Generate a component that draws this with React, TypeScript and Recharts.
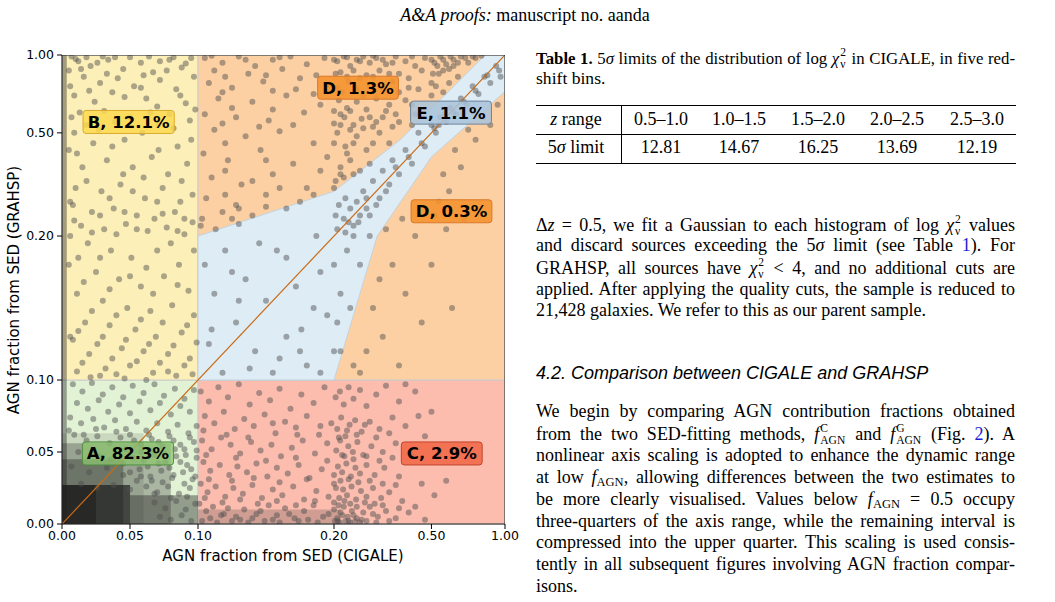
import { Scatter, ScatterChart, XAxis, YAxis } from "recharts";

// axis: linear up to 0.2, then compressed towards 1
const axisTickValues = [0, 0.05, 0.1, 0.2, 0.5, 1.0];
const scaleKnotsValue = [0, 0.2, 0.5, 1];
const scaleKnotsPosition = [0, 0.614, 0.834, 1];

type Pt = [number, number];

// region outlines (AGN fraction, CIGALE x / GRAHSP y)
const regionA: Pt[] = [[0, 0], [0.1, 0], [0.1, 0.1], [0, 0.1]];
const regionB: Pt[] = [[0, 0.1], [0.1, 0.1], [0.1, 1], [0, 1]];
const regionC: Pt[] = [[0.1, 0], [1, 0], [1, 0.1], [0.1, 0.1]];
const regionD: Pt[] = [[0.1, 0.1], [1, 0.1], [1, 1], [0.1, 1]];
const regionE: Pt[] = [
  [0.1, 0.1], [0.2, 0.1], [0.333, 0.2], [0.5, 0.43], [1, 0.765],
  [1, 1], [0.865, 1], [0.404, 0.48], [0.2, 0.33], [0.1, 0.2],
];

// very dense clumps of sources, drawn as shaded boxes [x0, x1, y0, y1, shade]
const denseBoxes: [number, number, number, number, number][] = [
  [0, 0.08, 0, 0.056, 0.28],
  [0, 0.06, 0, 0.063, 0.12],
  [0, 0.045, 0, 0.045, 0.35],
  [0, 0.05, 0, 0.027, 0.7],
  [0, 0.025, 0, 0.027, 0.55],
  [0.05, 0.1, 0, 0.02, 0.4],
  [0.1, 0.22, 0, 0.01, 0.2],
  [0, 0.0035, 0, 1, 0.4],
];

const pointsA: Pt[] = [
  [0.008,0.097],[0.015,0.092],[0.022,0.098],[0.03,0.09],[0.037,0.095],[0.045,0.088],[0.052,0.096],[0.06,0.091],[0.068,0.097],[0.075,0.089],[0.083,0.094],[0.09,0.087],[0.097,0.093],
  [0.011,0.084],[0.019,0.08],[0.027,0.086],[0.034,0.078],[0.042,0.083],[0.05,0.077],[0.057,0.085],[0.065,0.079],[0.072,0.084],[0.08,0.076],[0.087,0.082],[0.094,0.078],
  [0.006,0.074],[0.014,0.07],[0.023,0.073],[0.031,0.067],[0.039,0.072],[0.047,0.066],[0.055,0.071],[0.062,0.065],[0.07,0.07],[0.078,0.064],[0.085,0.069],[0.093,0.063],[0.099,0.068],
  [0.009,0.062],[0.018,0.058],[0.026,0.061],[0.035,0.056],[0.043,0.06],[0.058,0.055],[0.066,0.059],[0.074,0.054],[0.082,0.058],[0.09,0.052],[0.097,0.057],
  [0.012,0.05],[0.028,0.047],[0.036,0.045],[0.06,0.044],[0.068,0.048],[0.076,0.043],[0.084,0.047],[0.092,0.041],[0.099,0.046],
  [0.007,0.04],[0.02,0.036],[0.033,0.039],[0.045,0.034],[0.057,0.038],[0.065,0.033],[0.073,0.037],[0.081,0.032],[0.089,0.036],[0.096,0.031],
  [0.014,0.028],[0.026,0.025],[0.038,0.027],[0.05,0.024],[0.062,0.026],[0.07,0.022],[0.078,0.026],[0.086,0.021],[0.094,0.025],
  [0.068,0.015],[0.076,0.011],[0.084,0.016],[0.091,0.01],[0.098,0.014],[0.072,0.005],[0.08,0.003],[0.088,0.006],[0.095,0.002],
  [0.064,0.062],[0.071,0.057],[0.079,0.061],[0.087,0.055],[0.094,0.06],[0.067,0.051],[0.075,0.049],[0.083,0.052],[0.091,0.048],[0.099,0.051],
  [0.063,0.04],[0.071,0.042],[0.079,0.039],[0.087,0.043],[0.095,0.038],[0.066,0.03],[0.074,0.029],[0.082,0.034],[0.09,0.028],[0.098,0.033],[0.068,0.021],[0.08,0.018],[0.092,0.019],
  [0.005,0.065],[0.016,0.062],[0.025,0.066],[0.04,0.064],[0.05,0.062],[0.053,0.058],[0.047,0.052],[0.052,0.046],[0.058,0.05],[0.045,0.042],[0.05,0.036],[0.055,0.03],[0.058,0.033],
];

const pointsB: Pt[] = [
  [0.007,0.99],[0.018,0.985],[0.03,0.99],[0.05,0.985],[0.064,0.99],[0.082,0.985],
  [0.012,0.96],[0.021,0.93],[0.034,0.97],[0.045,0.91],[0.058,0.95],[0.067,0.89],[0.079,0.97],[0.088,0.92],[0.095,0.98],
  [0.016,0.86],[0.028,0.82],[0.041,0.85],[0.053,0.8],[0.072,0.84],[0.084,0.78],[0.009,0.74],[0.024,0.7],[0.037,0.76],[0.062,0.72],[0.091,0.69],
  [0.013,0.63],[0.079,0.62],[0.094,0.58],[0.027,0.52],[0.046,0.48],[0.059,0.5],[0.071,0.55],[0.085,0.46],
  [0.011,0.44],[0.033,0.42],[0.052,0.4],[0.066,0.43],[0.078,0.38],[0.092,0.41],[0.018,0.36],[0.029,0.33],[0.043,0.35],[0.061,0.31],[0.074,0.34],[0.087,0.3],
  [0.008,0.29],[0.022,0.27],[0.038,0.28],[0.055,0.26],[0.068,0.25],[0.083,0.27],[0.096,0.24],[0.014,0.23],[0.031,0.22],[0.047,0.235],[0.063,0.215],[0.077,0.225],[0.09,0.205],
  [0.006,0.2],[0.019,0.195],[0.036,0.19],[0.051,0.185],[0.07,0.19],[0.086,0.18],[0.025,0.175],[0.042,0.17],[0.058,0.165],[0.075,0.172],[0.093,0.162],
  [0.011,0.16],[0.03,0.155],[0.048,0.15],[0.065,0.148],[0.081,0.152],[0.097,0.145],[0.017,0.14],[0.035,0.138],[0.054,0.135],[0.069,0.13],[0.088,0.133],
  [0.008,0.128],[0.026,0.125],[0.044,0.122],[0.06,0.12],[0.078,0.118],[0.094,0.115],[0.015,0.112],[0.032,0.108],[0.05,0.11],[0.067,0.105],[0.084,0.103],[0.021,0.102],[0.04,0.104],
  [0.005,0.9],[0.006,0.8],[0.007,0.6],[0.005,0.45],[0.006,0.3],[0.005,0.18],[0.006,0.13],
  [0.01,0.975],[0.026,0.95],[0.039,0.985],[0.072,0.96],[0.091,0.945],[0.014,0.91],[0.033,0.88],[0.06,0.87],[0.077,0.9],[0.097,0.86],
  [0.02,0.77],[0.046,0.73],[0.058,0.79],[0.07,0.67],[0.087,0.74],[0.031,0.64],[0.05,0.6],[0.065,0.63],[0.098,0.65],[0.018,0.55],[0.039,0.57],[0.082,0.53],
  [0.009,0.5],[0.023,0.47],[0.037,0.46],[0.071,0.45],[0.095,0.48],[0.015,0.4],[0.045,0.38],[0.06,0.37],[0.088,0.36],[0.01,0.34],[0.035,0.31],[0.052,0.33],[0.07,0.3],[0.096,0.32],
  [0.028,0.26],[0.046,0.27],[0.074,0.265],[0.09,0.25],[0.009,0.245],[0.022,0.21],[0.04,0.205],[0.055,0.22],[0.085,0.215],[0.012,0.185],[0.028,0.185],[0.062,0.178],[0.08,0.195],[0.097,0.19],
  [0.016,0.168],[0.035,0.163],[0.05,0.172],[0.067,0.16],[0.085,0.166],[0.022,0.148],[0.04,0.145],[0.058,0.142],[0.074,0.14],[0.092,0.138],[0.012,0.134],[0.03,0.13],[0.047,0.128],[0.064,0.125],[0.082,0.124],[0.099,0.126],
  [0.02,0.118],[0.037,0.115],[0.055,0.113],[0.072,0.112],[0.09,0.11],[0.011,0.106],[0.028,0.103],[0.046,0.101],[0.062,0.1],[0.078,0.106],[0.096,0.104],
];

const pointsC: Pt[] = [
  [0.102,0.092],[0.108,0.085],[0.115,0.095],[0.122,0.088],[0.13,0.097],[0.138,0.083],[0.145,0.091],[0.153,0.086],[0.16,0.094],[0.168,0.08],[0.176,0.09],[0.185,0.084],[0.193,0.095],[0.205,0.088],[0.218,0.092],[0.23,0.083],[0.245,0.095],[0.26,0.087],[0.28,0.093],[0.3,0.082],[0.33,0.09],[0.36,0.096],[0.4,0.085],[0.45,0.092],[0.5,0.078],
  [0.105,0.075],[0.112,0.07],[0.119,0.078],[0.127,0.066],[0.134,0.073],[0.141,0.068],[0.149,0.076],[0.157,0.063],[0.164,0.071],[0.172,0.067],[0.18,0.075],[0.189,0.062],[0.198,0.07],[0.21,0.066],[0.222,0.074],[0.235,0.061],[0.248,0.069],[0.265,0.072],[0.285,0.064],[0.31,0.071],[0.34,0.066],[0.38,0.074],[0.42,0.068],[0.48,0.061],
  [0.103,0.058],[0.11,0.052],[0.117,0.06],[0.124,0.055],[0.131,0.049],[0.139,0.057],[0.146,0.051],[0.154,0.055],[0.161,0.047],[0.169,0.053],[0.177,0.058],[0.186,0.049],[0.195,0.056],[0.207,0.051],[0.219,0.058],[0.232,0.047],[0.244,0.054],[0.258,0.05],[0.272,0.057],[0.29,0.048],[0.315,0.054],[0.35,0.05],[0.39,0.056],[0.44,0.047],[0.6,0.03],
  [0.104,0.043],[0.109,0.037],[0.116,0.041],[0.123,0.034],[0.129,0.04],[0.136,0.036],[0.143,0.042],[0.151,0.033],[0.158,0.039],[0.166,0.035],[0.174,0.041],[0.182,0.032],[0.191,0.038],[0.2,0.034],[0.212,0.04],[0.225,0.036],[0.238,0.042],[0.252,0.033],[0.266,0.039],[0.28,0.035],[0.3,0.041],[0.325,0.034],[0.355,0.039],[0.4,0.033],[0.47,0.028],
  [0.102,0.028],[0.107,0.022],[0.113,0.026],[0.12,0.019],[0.126,0.025],[0.133,0.021],[0.14,0.027],[0.147,0.018],[0.155,0.024],[0.162,0.02],[0.17,0.026],[0.178,0.017],[0.187,0.023],[0.196,0.019],[0.206,0.025],[0.216,0.018],[0.228,0.024],[0.24,0.02],[0.254,0.026],[0.268,0.017],[0.283,0.023],[0.3,0.019],[0.32,0.025],[0.345,0.018],[0.37,0.022],[0.41,0.016],[0.45,0.012],
  [0.101,0.014],[0.106,0.009],[0.111,0.012],[0.117,0.006],[0.122,0.011],[0.128,0.005],[0.134,0.01],[0.14,0.004],[0.146,0.009],[0.152,0.013],[0.158,0.006],[0.164,0.011],[0.171,0.004],[0.178,0.009],[0.185,0.013],[0.192,0.005],[0.2,0.01],[0.21,0.004],[0.22,0.008],[0.23,0.012],[0.242,0.005],[0.255,0.009],[0.27,0.004],[0.29,0.008],[0.31,0.012],[0.335,0.005],[0.36,0.009],[0.39,0.004],[0.43,0.008],[0.48,0.003],
  [0.103,0.002],[0.114,0.001],[0.125,0.002],[0.137,0.001],[0.149,0.002],[0.16,0.001],[0.174,0.002],[0.188,0.001],[0.203,0.002],[0.218,0.001],[0.235,0.002],[0.25,0.001],[0.265,0.002],[0.28,0.001],[0.3,0.002],[0.33,0.001],[0.37,0.002],
  [0.104,0.065],[0.121,0.062],[0.137,0.06],[0.155,0.07],[0.173,0.062],[0.19,0.068],[0.215,0.06],[0.24,0.065],[0.27,0.062],[0.295,0.069],[0.33,0.06],[0.37,0.063],
  [0.106,0.048],[0.128,0.046],[0.15,0.044],[0.172,0.046],[0.195,0.044],[0.225,0.048],[0.26,0.045],[0.3,0.047],[0.34,0.044],[0.38,0.046],
  [0.108,0.031],[0.125,0.03],[0.141,0.032],[0.16,0.029],[0.18,0.031],[0.2,0.028],[0.22,0.03],[0.245,0.031],[0.275,0.029],[0.31,0.03],[0.35,0.028],[0.39,0.027],
  [0.105,0.018],[0.118,0.015],[0.131,0.017],[0.144,0.014],[0.158,0.016],[0.172,0.013],[0.186,0.016],[0.2,0.015],[0.214,0.013],[0.232,0.016],[0.25,0.014],[0.27,0.012],[0.295,0.015],[0.325,0.014],[0.35,0.013],
  [0.109,0.004],[0.119,0.007],[0.131,0.003],[0.143,0.007],[0.155,0.003],[0.167,0.007],[0.181,0.003],[0.196,0.007],[0.212,0.002],[0.226,0.006],[0.245,0.002],[0.26,0.006],[0.285,0.003],[0.32,0.007],[0.4,0.011],[0.52,0.02],[0.55,0.05],[0.46,0.075],[0.42,0.097],
];

const pointsD: Pt[] = [
  [0.105,0.98],[0.118,0.95],[0.13,0.99],[0.142,0.93],[0.155,0.97],[0.168,0.99],[0.18,0.94],[0.193,0.98],[0.21,0.96],[0.23,0.99],[0.25,0.93],[0.27,0.97],[0.29,0.99],[0.31,0.95],[0.33,0.98],[0.36,0.94],[0.39,0.99],[0.42,0.96],[0.45,0.93],[0.48,0.98],[0.52,0.95],[0.56,0.99],[0.6,0.94],[0.65,0.97],[0.7,0.99],[0.75,0.95],[0.8,0.98],
  [0.112,0.9],[0.137,0.88],[0.162,0.91],[0.187,0.87],[0.22,0.89],[0.26,0.9],[0.3,0.87],[0.34,0.9],[0.4,0.88],[0.47,0.9],[0.55,0.88],[0.62,0.91],[0.68,0.86],
  [0.108,0.82],[0.125,0.79],[0.148,0.83],[0.172,0.78],[0.196,0.81],[0.225,0.76],[0.245,0.83],[0.31,0.8],[0.35,0.77],[0.38,0.83],[0.43,0.79],[0.5,0.82],[0.58,0.76],[0.62,0.82],
  [0.115,0.72],[0.14,0.7],[0.165,0.74],[0.19,0.68],[0.215,0.71],[0.24,0.66],[0.27,0.7],[0.3,0.65],[0.33,0.72],[0.37,0.68],[0.42,0.71],[0.44,0.68],[0.5,0.74],
  [0.105,0.62],[0.128,0.6],[0.152,0.58],[0.178,0.63],[0.2,0.56],[0.232,0.6],[0.26,0.55],[0.285,0.59],[0.32,0.54],[0.35,0.6],[0.4,0.57],[0.44,0.55],[0.45,0.62],
  [0.112,0.52],[0.135,0.49],[0.16,0.51],[0.185,0.47],[0.21,0.5],[0.235,0.46],[0.27,0.49],[0.3,0.45],[0.34,0.5],[0.37,0.47],
  [0.104,0.44],[0.122,0.42],[0.146,0.45],[0.17,0.41],[0.195,0.43],[0.22,0.4],[0.25,0.42],[0.28,0.39],[0.31,0.41],
  [0.11,0.37],[0.132,0.35],[0.155,0.38],[0.18,0.34],[0.205,0.36],[0.23,0.37],[0.26,0.38],
  [0.106,0.31],[0.128,0.29],[0.15,0.32],[0.175,0.3],[0.2,0.34],[0.103,0.25],[0.118,0.27],[0.14,0.26],[0.165,0.28],[0.113,0.22],[0.13,0.235],
  [0.11,0.995],[0.135,0.97],[0.16,0.985],[0.2,0.97],[0.24,0.985],[0.28,0.96],[0.32,0.995],[0.35,0.97],[0.38,0.95],[0.44,0.99],[0.5,0.97],[0.54,0.93],[0.58,0.97],[0.63,0.99],[0.68,0.95],[0.73,0.98],[0.78,0.99],[0.84,0.995],
  [0.12,0.86],[0.15,0.87],[0.175,0.85],[0.205,0.88],[0.24,0.86],[0.28,0.85],[0.32,0.86],[0.37,0.88],[0.43,0.85],[0.51,0.88],[0.58,0.9],[0.65,0.93],
  [0.118,0.76],[0.155,0.77],[0.185,0.75],[0.21,0.79],[0.27,0.78],[0.29,0.74],[0.4,0.76],[0.46,0.78],[0.53,0.8],
  [0.125,0.66],[0.155,0.65],[0.2,0.64],[0.22,0.62],[0.25,0.64],[0.31,0.6],[0.36,0.64],[0.39,0.62],
  [0.118,0.56],[0.145,0.54],[0.17,0.55],[0.22,0.55],[0.25,0.52],[0.29,0.53],[0.33,0.57],[0.38,0.54],
  [0.12,0.47],[0.15,0.42],[0.2,0.47],[0.24,0.44],[0.26,0.47],[0.32,0.47],
  [0.12,0.39],[0.14,0.36],[0.19,0.39],[0.22,0.38],[0.12,0.32],[0.16,0.34],[0.185,0.32],[0.13,0.28],[0.15,0.285],[0.102,0.23],[0.125,0.25],
  [0.3,0.12],[0.32,0.15],[0.35,0.13],[0.38,0.18],[0.4,0.11],[0.42,0.16],[0.45,0.2],[0.36,0.22],[0.41,0.25],[0.47,0.14],[0.5,0.18],[0.52,0.26],[0.55,0.3],[0.6,0.22],
  [0.58,0.38],[0.62,0.33],[0.66,0.45],[0.7,0.4],[0.75,0.52],[0.8,0.48],[0.85,0.6],[0.9,0.55],[0.95,0.68],[0.64,0.15],[0.72,0.25],[0.28,0.105],[0.26,0.11],[0.34,0.17],
];

const pointsE: Pt[] = [
  [0.105,0.18],[0.112,0.16],[0.12,0.19],[0.128,0.14],[0.135,0.17],[0.142,0.12],[0.15,0.155],[0.158,0.19],[0.165,0.13],[0.172,0.165],[0.18,0.11],[0.187,0.2],[0.195,0.145],
  [0.108,0.125],[0.118,0.105],[0.138,0.108],[0.16,0.115],[0.176,0.135],[0.19,0.175],[0.2,0.12],[0.21,0.22],[0.22,0.16],[0.23,0.25],[0.24,0.19],[0.25,0.28],[0.26,0.23],[0.27,0.3],
  [0.205,0.26],[0.215,0.29],[0.235,0.31],[0.28,0.26],[0.29,0.33],[0.3,0.28],[0.32,0.36],[0.34,0.31],[0.35,0.39],[0.37,0.35],[0.38,0.42],[0.4,0.38],[0.42,0.45],[0.44,0.41],
  [0.46,0.5],[0.48,0.46],[0.5,0.55],[0.53,0.5],[0.56,0.6],[0.6,0.57],[0.63,0.66],[0.67,0.62],[0.7,0.72],[0.74,0.68],[0.78,0.8],[0.82,0.75],[0.86,0.86],[0.9,0.82],[0.94,0.93],[0.97,0.86],
  [0.22,0.12],[0.25,0.15],[0.28,0.18],[0.31,0.2],
  [0.11,0.135],[0.125,0.175],[0.145,0.195],[0.165,0.185],[0.185,0.15],[0.2,0.18],[0.21,0.14],[0.235,0.21],[0.245,0.24],[0.26,0.2],[0.275,0.24],[0.3,0.31],[0.31,0.26],[0.33,0.29],[0.36,0.33],
  [0.39,0.4],[0.43,0.43],[0.47,0.47],[0.52,0.53],[0.55,0.55],[0.59,0.62],[0.65,0.63],[0.72,0.7],[0.8,0.77],[0.88,0.87],[0.96,0.9],[0.13,0.155],[0.175,0.12],[0.155,0.105],[0.19,0.105],
];

const diagonal: Pt[] = [[0, 0], [1, 1]];

const classLabels = [
  { text: "B, 12.1%", x: 0.049, y: 0.57, cls: "B" },
  { text: "D, 1.3%", x: 0.274, y: 0.79, cls: "D" },
  { text: "E, 1.1%", x: 0.633, y: 0.63, cls: "E" },
  { text: "D, 0.3%", x: 0.636, y: 0.272, cls: "D" },
  { text: "A, 82.3%", x: 0.0485, y: 0.049, cls: "A" },
  { text: "C, 2.9%", x: 0.57, y: 0.049, cls: "C" },
];

const regionFill: Record<string, string> = {
  A: "#e1f2d5", B: "#fdefb8", C: "#fcbdaf", D: "#fdd0a4", E: "#ddecf5",
};
const labelStyle: Record<string, { face: string; edge: string; alpha: number }> = {
  A: { face: "#8cc56f", edge: "#4f8f3e", alpha: 0.75 },
  B: { face: "#fcd94f", edge: "#d9aa2b", alpha: 0.85 },
  C: { face: "#f2694a", edge: "#c0442c", alpha: 0.9 },
  D: { face: "#f5922f", edge: "#d9782a", alpha: 0.9 },
  E: { face: "#a9c3da", edge: "#6d839a", alpha: 0.85 },
};

const SANS = "'DejaVu Sans', sans-serif";
const SERIF = "'Liberation Serif', 'Times New Roman', serif";

function toAxis(v: number): number {
  for (let i = 1; i < scaleKnotsValue.length; i++) {
    if (v <= scaleKnotsValue[i]) {
      const f = (v - scaleKnotsValue[i - 1]) / (scaleKnotsValue[i] - scaleKnotsValue[i - 1]);
      return scaleKnotsPosition[i - 1] + f * (scaleKnotsPosition[i] - scaleKnotsPosition[i - 1]);
    }
  }
  return 1;
}

const axisTicks = axisTickValues.map(toAxis);
const tickLabel = (t: number) => {
  const i = axisTicks.findIndex((a) => Math.abs(a - t) < 1e-6);
  return i >= 0 ? axisTickValues[i].toFixed(2) : "";
};

const toData = (pts: Pt[]) => pts.map(([x, y]) => ({ x: toAxis(x), y: toAxis(y) }));

function polygon(key: string, pts: Pt[], fill: string, fillOpacity: number, stroke = "none", strokeWidth = 0, closed = true) {
  return (
    <Scatter
      key={key}
      data={toData(pts)}
      isAnimationActive={false}
      shape={() => <g />}
      line={(p: any) => {
        const d = p.points.map((q: any, i: number) => `${i ? "L" : "M"}${q.x},${q.y}`).join("") + (closed ? "Z" : "");
        return <path d={d} fill={fill} fillOpacity={fillOpacity} stroke={stroke} strokeWidth={strokeWidth} />;
      }}
    />
  );
}

const dot = (p: any) => <circle cx={p.cx} cy={p.cy} r={3} fill="#505050" fillOpacity={0.48} />;

const labelShape = (p: any) => {
  const d = p.payload;
  const s = labelStyle[d.cls];
  const w = d.text.length * 10.4 + 8;
  return (
    <g>
      <rect x={p.cx - w / 2} y={p.cy - 11.5} width={w} height={23} rx={3} fill={s.face} fillOpacity={s.alpha} stroke={s.edge} strokeWidth={1} />
      <text x={p.cx} y={p.cy + 6} textAnchor="middle" fontFamily={SANS} fontWeight="bold" fontSize={16.5} fill="#000">
        {d.text}
      </text>
    </g>
  );
};

function Scr({ sup, sub }: { sup: string; sub: string }) {
  return (
    <span style={{ display: "inline-block", verticalAlign: "-4px", lineHeight: "12px", fontSize: 11.5, textAlign: "left", margin: "0 1px" }}>
      <span style={{ display: "block" }}>{sup}</span>
      <span style={{ display: "block" }}>{sub}</span>
    </span>
  );
}

const Chi = () => (<><i>χ</i><Scr sup="2" sub="ν" /></>);
const FAgn = () => (<><i>f</i><sub style={{ fontSize: 12.5, verticalAlign: "-3px" }}>AGN</sub></>);
const Ref = ({ n }: { n: string }) => <span style={{ color: "#1f1fd6" }}>{n}</span>;

const BODY = 18;

function TextLine({ top, children, full = true, size = BODY }: { top: number; children: any; full?: boolean; size?: number }) {
  return (
    <div
      style={{
        position: "absolute", left: 536, top, width: 479, fontSize: size, lineHeight: "22px",
        textAlign: full ? "justify" : "left", textAlignLast: full ? "justify" : "left", whiteSpace: "nowrap",
      }}
    >
      {children}
    </div>
  );
}

const zRanges = ["0.5–1.0", "1.0–1.5", "1.5–2.0", "2.0–2.5", "2.5–3.0"];
const sigmaLimits = ["12.81", "14.67", "16.25", "13.69", "12.19"];
const colCenters = [661, 739, 818, 897, 977];

export default function App() {
  const p1 = 212.7;
  const p2 = 400;
  const dl = 21.6;
  const dl2 = 21.9;
  const cell = { position: "absolute" as const, width: 84, textAlign: "center" as const, fontSize: BODY, lineHeight: "22px" };
  return (
    <div style={{ position: "absolute", left: 0, top: 0, width: 1055, height: 602, background: "#fff", overflow: "hidden", fontFamily: SERIF, color: "#000" }}>
      <div style={{ position: "absolute", left: 0, width: 1050, top: 4, textAlign: "center", fontSize: 18, lineHeight: "22px" }}>
        <i>A&amp;A proofs:</i> manuscript no. aanda
      </div>

      <div style={{ position: "absolute", left: 0, top: 0 }}>
        <ScatterChart width={525} height={580} margin={{ top: 55, right: 20, bottom: 26, left: 0 }}>
          <XAxis
            type="number" dataKey="x" domain={[0, 1]} ticks={axisTicks} tickFormatter={tickLabel} interval={0}
            height={30} tickSize={5} tickMargin={2} allowDataOverflow
            axisLine={{ stroke: "#000" }} tickLine={{ stroke: "#000" }}
            tick={{ fill: "#000", fontSize: 12.5, fontFamily: SANS }}
          />
          <YAxis
            type="number" dataKey="y" domain={[0, 1]} ticks={axisTicks} tickFormatter={tickLabel} interval={0}
            width={62} tickSize={5} tickMargin={3} allowDataOverflow
            axisLine={{ stroke: "#000" }} tickLine={{ stroke: "#000" }}
            tick={{ fill: "#000", fontSize: 12.5, fontFamily: SANS }}
          />
          {polygon("rA", regionA, regionFill.A, 1, "#cccccc", 1)}
          {polygon("rB", regionB, regionFill.B, 1, "#cccccc", 1)}
          {polygon("rC", regionC, regionFill.C, 1, "#cccccc", 1)}
          {polygon("rD", regionD, regionFill.D, 1, "#cccccc", 1)}
          {polygon("rE", regionE, regionFill.E, 1, "#c4d2dc", 1)}
          {denseBoxes.map(([x0, x1, y0, y1, a], i) =>
            polygon(`dense${i}`, [[x0, y0], [x1, y0], [x1, y1], [x0, y1]], "#1e1e1e", a)
          )}
          <Scatter data={toData(pointsA)} shape={dot} isAnimationActive={false} />
          <Scatter data={toData(pointsB)} shape={dot} isAnimationActive={false} />
          <Scatter data={toData(pointsC)} shape={dot} isAnimationActive={false} />
          <Scatter data={toData(pointsD)} shape={dot} isAnimationActive={false} />
          <Scatter data={toData(pointsE)} shape={dot} isAnimationActive={false} />
          {polygon("diag", diagonal, "none", 0, "#cc6a14", 1.2, false)}
          <Scatter
            data={classLabels.map((l) => ({ ...l, x: toAxis(l.x), y: toAxis(l.y) }))}
            shape={labelShape}
            isAnimationActive={false}
          />
          {polygon("frame", [[0, 0], [1, 0], [1, 1], [0, 1]], "none", 0, "#222", 1)}
        </ScatterChart>
      </div>

      <div style={{ position: "absolute", left: 0, top: 547, width: 566, textAlign: "center", fontFamily: SANS, fontSize: 15, lineHeight: "18px" }}>
        AGN fraction from SED (CIGALE)
      </div>
      <div
        style={{
          position: "absolute", left: 14, top: 290, width: 400, marginLeft: -200, marginTop: -9, textAlign: "center",
          fontFamily: SANS, fontSize: 15, lineHeight: "18px", transform: "rotate(-90deg)",
        }}
      >
        AGN fraction from SED (GRAHSP)
      </div>

      <TextLine top={45.5} size={16.8}>
        <b>Table 1.</b> 5<i>σ</i> limits of the distribution of log <Chi /> in CIGALE, in five red-
      </TextLine>
      <TextLine top={67} size={17.6} full={false}>shift bins.</TextLine>

      <div style={{ position: "absolute", left: 536, top: 105, width: 480, height: 1.3, background: "#000" }} />
      <div style={{ position: "absolute", left: 536, top: 134.2, width: 480, height: 0.8, background: "#000" }} />
      <div style={{ position: "absolute", left: 536, top: 163.2, width: 480, height: 1.3, background: "#000" }} />
      <div style={{ position: "absolute", left: 620.5, top: 105, width: 0.9, height: 59, background: "#000" }} />
      <div style={{ ...cell, left: 534, top: 107.5 }}>
        <i>z</i> range
      </div>
      <div style={{ ...cell, left: 534, top: 136 }}>
        5<i>σ</i> limit
      </div>
      {zRanges.map((r, i) => (
        <div key={r} style={{ ...cell, left: colCenters[i] - 42, top: 107.5 }}>
          {r}
        </div>
      ))}
      {sigmaLimits.map((v, i) => (
        <div key={v} style={{ ...cell, left: colCenters[i] - 42, top: 136 }}>
          {v}
        </div>
      ))}

      <TextLine top={p1}>Δ<i>z</i> = 0.5, we fit a Gaussian to each histogram of log <Chi /> values</TextLine>
      <TextLine top={p1 + dl}>and discard sources exceeding the 5<i>σ</i> limit (see Table <Ref n="1" />). For</TextLine>
      <TextLine top={p1 + 2 * dl}>GRAHSP, all sources have <Chi /> &lt; 4, and no additional cuts are</TextLine>
      <TextLine top={p1 + 3 * dl}>applied. After applying the quality cuts, the sample is reduced to</TextLine>
      <TextLine top={p1 + 4 * dl} full={false}>21,428 galaxies. We refer to this as our parent sample.</TextLine>

      <div style={{ position: "absolute", left: 536, top: 361.5, fontFamily: "'Liberation Sans', Arial, sans-serif", fontStyle: "italic", fontSize: 18, lineHeight: "22px" }}>
        4.2. Comparison between CIGALE and GRAHSP
      </div>

      <TextLine top={p2}>We begin by comparing AGN contribution fractions obtained</TextLine>
      <TextLine top={p2 + dl2}>from the two SED-fitting methods, <i>f</i><Scr sup="C" sub="AGN" /> and <i>f</i><Scr sup="G" sub="AGN" /> (Fig. <Ref n="2" />). A</TextLine>
      <TextLine top={p2 + 2 * dl2}>nonlinear axis scaling is adopted to enhance the dynamic range</TextLine>
      <TextLine top={p2 + 3 * dl2}>at low <FAgn />, allowing differences between the two estimates to</TextLine>
      <TextLine top={p2 + 4 * dl2}>be more clearly visualised. Values below <FAgn /> = 0.5 occupy</TextLine>
      <TextLine top={p2 + 5 * dl2}>three-quarters of the axis range, while the remaining interval is</TextLine>
      <TextLine top={p2 + 6 * dl2}>compressed into the upper quarter. This scaling is used consis-</TextLine>
      <TextLine top={p2 + 7 * dl2}>tently in all subsequent figures involving AGN fraction compar-</TextLine>
      <TextLine top={p2 + 8 * dl2} full={false}>isons.</TextLine>
    </div>
  );
}
